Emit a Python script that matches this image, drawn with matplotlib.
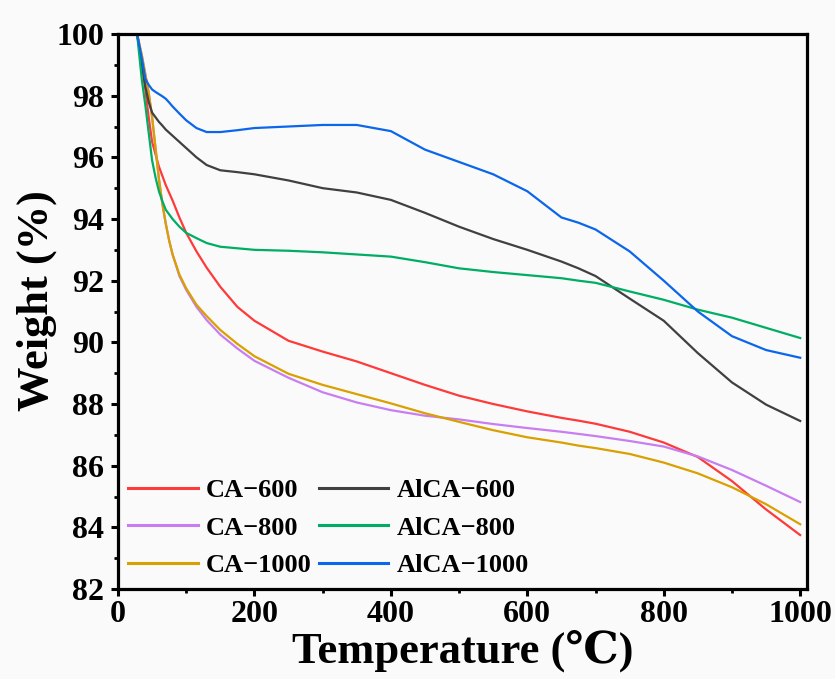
import matplotlib
matplotlib.use("Agg")
import matplotlib.pyplot as plt
from matplotlib.ticker import MultipleLocator

temps = [28, 35, 40, 45, 50, 55, 60, 65, 70, 75, 80, 90, 100, 115, 130, 150, 175, 200, 250,
         300, 350, 400, 450, 500, 550, 600, 650, 675, 700, 750, 800, 850, 900, 950, 1000]

ca600 = [100, 99.0, 98.2, 97.3, 96.5, 96.1, 95.7, 95.4, 95.1, 94.85, 94.6, 94.05, 93.55,
         92.95, 92.42, 91.8, 91.15, 90.7, 90.05, 89.7, 89.38, 89.0, 88.62, 88.27, 88.0,
         87.76, 87.55, 87.46, 87.36, 87.1, 86.75, 86.28, 85.5, 84.58, 83.75]
ca800 = [100, 99.3, 98.7, 98.1, 97.3, 96.3, 95.3, 94.5, 93.85, 93.3, 92.85, 92.15, 91.7,
         91.15, 90.72, 90.25, 89.8, 89.4, 88.85, 88.38, 88.05, 87.8, 87.62, 87.5, 87.35,
         87.22, 87.1, 87.03, 86.96, 86.8, 86.62, 86.3, 85.86, 85.35, 84.82]
ca1000 = [100, 99.3, 98.7, 98.1, 97.3, 96.3, 95.3, 94.5, 93.85, 93.3, 92.85, 92.2, 91.75,
          91.22, 90.85, 90.4, 89.95, 89.55, 88.98, 88.62, 88.32, 88.02, 87.7, 87.42, 87.15,
          86.92, 86.75, 86.65, 86.57, 86.38, 86.1, 85.75, 85.3, 84.75, 84.1]
alca600 = [100, 99.0, 98.3, 97.8, 97.45, 97.3, 97.15, 97.03, 96.9, 96.8, 96.7, 96.5, 96.3,
           96.0, 95.75, 95.58, 95.52, 95.45, 95.25, 95.0, 94.86, 94.62, 94.2, 93.75, 93.35,
           93.0, 92.62, 92.4, 92.15, 91.42, 90.7, 89.65, 88.7, 87.98, 87.45]
alca800 = [100, 98.5, 97.7, 96.8, 95.9, 95.35, 94.9, 94.58, 94.3, 94.15, 94.0, 93.75, 93.55,
           93.38, 93.22, 93.1, 93.05, 93.0, 92.97, 92.92, 92.85, 92.78, 92.6, 92.4, 92.28,
           92.18, 92.08, 92.0, 91.93, 91.65, 91.38, 91.06, 90.8, 90.47, 90.14]
alca1000 = [100, 99.2, 98.55, 98.35, 98.2, 98.12, 98.05, 97.98, 97.9, 97.78, 97.65, 97.42,
            97.2, 96.95, 96.82, 96.82, 96.88, 96.95, 97.0, 97.05, 97.05, 96.85, 96.25, 95.85,
            95.45, 94.9, 94.05, 93.88, 93.66, 92.95, 92.0, 91.0, 90.2, 89.75, 89.5]

labels = ["CA\u2212600", "CA\u2212800", "CA\u22121000",
          "AlCA\u2212600", "AlCA\u2212800", "AlCA\u22121000"]
series = [ca600, ca800, ca1000, alca600, alca800, alca1000]
colors = ["#fe3a3a", "#c87ef0", "#d9a000", "#404040", "#00ad64", "#0a66ea"]

plt.rcParams['font.family'] = ['Liberation Serif', 'DejaVu Serif']
plt.rcParams['font.weight'] = 'bold'

bg = "#fafafa"
fig = plt.figure(figsize=(8.35, 6.79), dpi=100, facecolor=bg)
ax = fig.add_axes([118/835, 1 - 589/679, (807-118)/835, (589-34)/679], facecolor=bg)

for y, lab, c in zip(series, labels, colors):
    ax.plot(temps, y, color=c, lw=1.6, label=lab)

ax.set_xlim(0, 1010)
ax.set_ylim(82, 100)
ax.xaxis.set_major_locator(MultipleLocator(200))
ax.xaxis.set_minor_locator(MultipleLocator(100))
ax.yaxis.set_major_locator(MultipleLocator(2))
ax.yaxis.set_minor_locator(MultipleLocator(1))

for s in ax.spines.values():
    s.set_linewidth(2.3)
ax.tick_params(which='major', direction='out', length=5, width=2.2, labelsize=23, pad=3)
ax.tick_params(which='minor', direction='out', length=3, width=2.0)
ax.tick_params(axis='y', which='major', pad=5)
for t in ax.get_xticklabels() + ax.get_yticklabels():
    t.set_fontweight('bold')

ax.set_xlabel("Temperature (\u2103)", fontsize=32, fontweight='bold', labelpad=0)
ax.set_ylabel("Weight (%)", fontsize=32, fontweight='bold')
ax.yaxis.set_label_coords(-0.088, 0.52)

leg = ax.legend(ncol=2, loc='lower left', bbox_to_anchor=(0.015, 0.022), frameon=False,
                prop={'size': 19, 'weight': 'bold'}, handlelength=2.65, handletextpad=0.3,
                columnspacing=0.25, labelspacing=0.52, borderpad=0, borderaxespad=0)
for l in leg.get_lines():
    l.set_linewidth(2.2)

fig.savefig("out.png", dpi=100, facecolor=bg)
